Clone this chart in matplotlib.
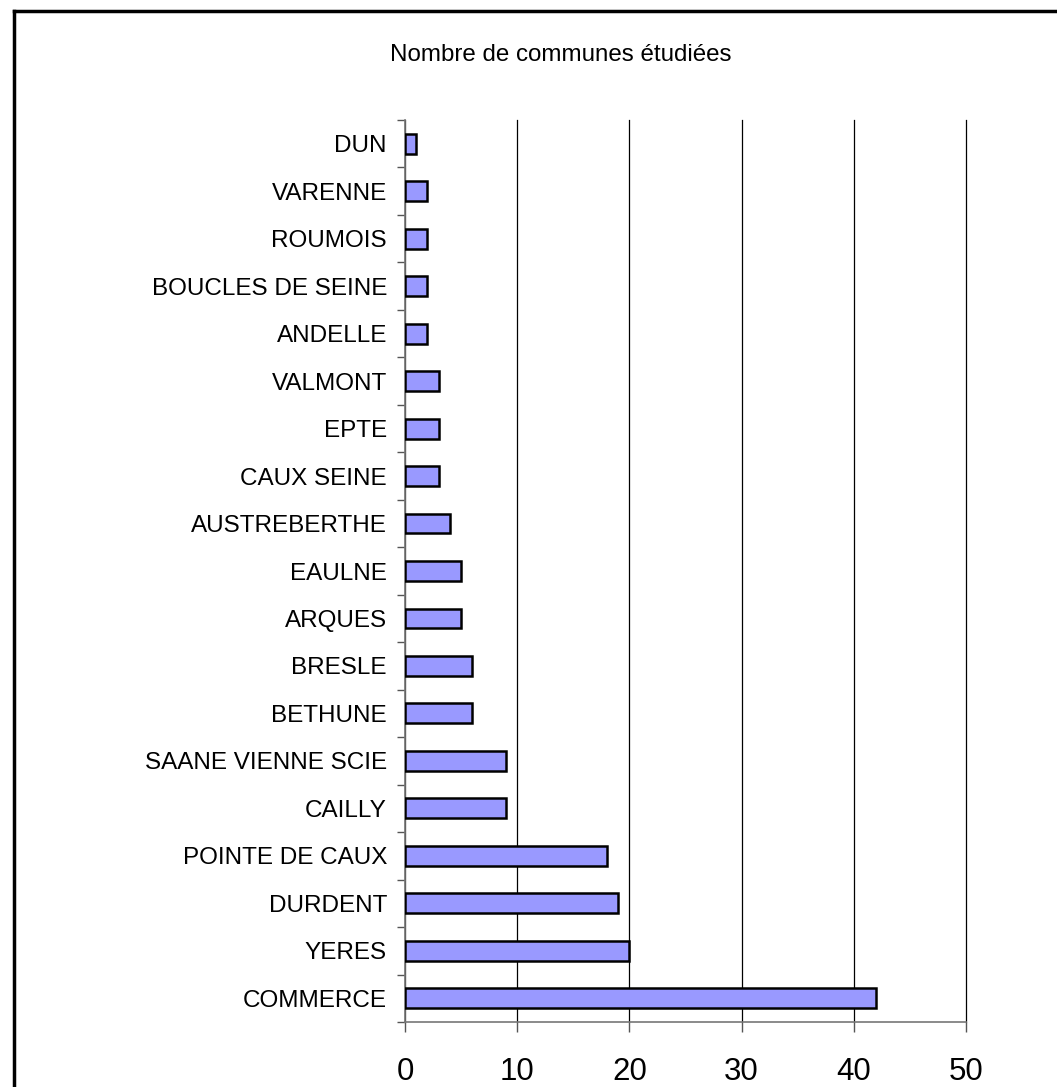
import matplotlib
matplotlib.use("Agg")
import matplotlib.pyplot as plt
import numpy as np
from matplotlib.lines import Line2D

plt.rcParams['font.family'] = ['Liberation Sans', 'DejaVu Sans']

categories = ["COMMERCE", "YERES", "DURDENT", "POINTE DE CAUX", "CAILLY",
              "SAANE VIENNE SCIE", "BETHUNE", "BRESLE", "ARQUES", "EAULNE",
              "AUSTREBERTHE", "CAUX SEINE", "EPTE", "VALMONT", "ANDELLE",
              "BOUCLES DE SEINE", "ROUMOIS", "VARENNE", "DUN"]
values = [42, 20, 19, 18, 9, 9, 6, 6, 5, 5, 4, 3, 3, 3, 2, 2, 2, 2, 1]
xticks = [0, 10, 20, 30, 40, 50]
title = "Nombre de communes étudiées"

W, H = 1057, 1087
fig = plt.figure(figsize=(W/100, H/100), dpi=100)
ax = fig.add_axes([405/W, 1-1022/H, (966-405)/W, (1022-120)/H])

y = np.arange(len(categories))
ax.barh(y, values, height=0.42, color='#9999FF', edgecolor='black', linewidth=1.8, zorder=3)

ax.set_xlim(0, 50)
ax.set_ylim(-0.5, len(categories)-0.5)
ax.set_xticks(xticks)
ax.set_xticklabels([str(t) for t in xticks], fontsize=22.5)
ax.xaxis.grid(True, color='black', linewidth=0.9, zorder=0)
for gl in ax.get_xgridlines():
    gl.set_clip_on(False)
ax.tick_params(axis='x', length=7.2, width=1, color='#555555', pad=18)

ax.set_yticks(y)
ax.set_yticklabels(categories, fontsize=17.5)
ax.tick_params(axis='y', which='major', length=0, pad=13)
ax.set_yticks(np.arange(-0.5, len(categories), 1.0), minor=True)
ax.tick_params(axis='y', which='minor', length=5.8, width=1, color='#555555')

for s in ['top', 'right']:
    ax.spines[s].set_visible(False)
ax.spines['left'].set_color('#777777')
ax.spines['left'].set_linewidth(1.2)
ax.spines['bottom'].set_color('#777777')
ax.spines['bottom'].set_linewidth(1.2)

fig.text(561/W, 1-55/H, title, ha='center', va='center', fontsize=17.4)

# figure border (left and top visible)
fig.add_artist(Line2D([14/W, 14/W], [0, 1-11/H], transform=fig.transFigure, color='black', linewidth=2.5))
fig.add_artist(Line2D([14/W, 1], [1-11/H, 1-11/H], transform=fig.transFigure, color='black', linewidth=2.5))

fig.savefig("out.png", dpi=100)
